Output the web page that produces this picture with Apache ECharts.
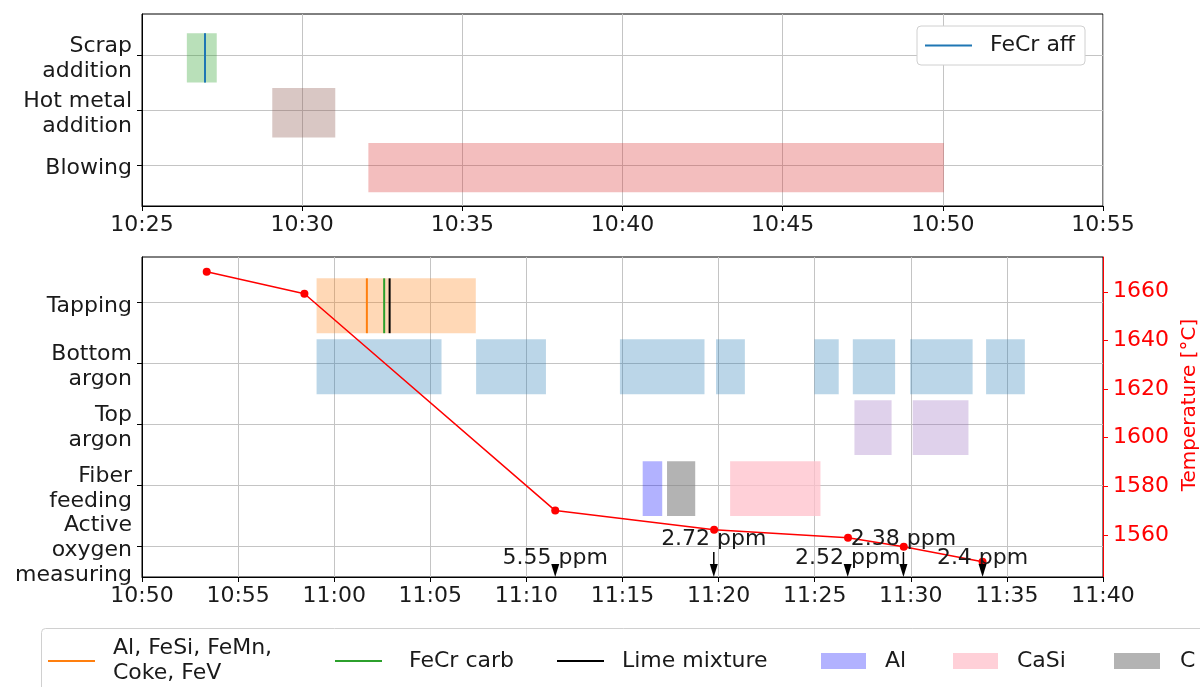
<!DOCTYPE html>
<html>
<head>
<meta charset="utf-8">
<script src="https://cdn.jsdelivr.net/npm/echarts@6/dist/echarts.min.js"></script>
<style>
  html, body { margin: 0; padding: 0; background: #fff; }
  #chart { width: 1200px; height: 687px; }
</style>
</head>
<body>
<div id="chart"></div>
<script>
// ---- Converter phase (top panel) ----
const topCategories = ['Scrap\naddition', 'Hot metal\naddition', 'Blowing'];
const scrapAddition = [['10:26:24', '10:27:20']];
const hotMetalAddition = [['10:29:04', '10:31:02']];
const blowing = [['10:32:04', '10:50:02']];
const fecrAff = ['10:26:58'];

// ---- Ladle phase (bottom panel) ----
const bottomCategories = ['Tapping', 'Bottom\nargon', 'Top\nargon', 'Fiber\nfeeding', 'Active\noxygen\nmeasuring'];
const tapping = [['10:59:05', '11:07:22']];
const alloyAdditions = ['11:01:42'];   // Al, FeSi, FeMn, Coke, FeV
const fecrCarb = ['11:02:36'];
const limeMixture = ['11:02:53'];
const bottomArgon = [
  ['10:59:05', '11:05:35'], ['11:07:23', '11:11:01'], ['11:14:52', '11:19:16'],
  ['11:19:52', '11:21:22'], ['11:24:59', '11:26:15'], ['11:26:59', '11:29:11'],
  ['11:29:58', '11:33:13'], ['11:33:55', '11:35:56']
];
const topArgon = [['11:27:04', '11:29:00'], ['11:30:06', '11:33:00']];
const fiberAl = [['11:16:03', '11:17:04']];
const fiberC = [['11:17:19', '11:18:47']];
const fiberCaSi = [['11:20:36', '11:25:18']];

// Temperature measurements
const temperatureTimes = ['10:53:22', '10:58:27', '11:11:30', '11:19:46', '11:26:44', '11:29:38', '11:33:44'];
const temperatureValues = [1668.2, 1659.2, 1570.0, 1562.1, 1558.8, 1555.1, 1549.0];
const temperatureTicks = [1560, 1580, 1600, 1620, 1640, 1660];

// Active oxygen measurements (ppm)
const oxygenTimes = ['11:11:30', '11:19:45', '11:26:43', '11:29:37', '11:33:44'];
const oxygenValues = [5.55, 2.72, 2.52, 2.38, 2.4];

// ---- helpers ----
function toMin(s) {
  const p = s.split(':').map(Number);
  return p[0] * 60 + p[1] + (p[2] || 0) / 60;
}
function fmtTime(v) {
  const h = Math.floor(v / 60), m = Math.round(v - h * 60);
  return h + ':' + String(m).padStart(2, '0');
}
const FONT = 'DejaVu Sans';
const TXT = '#1a1a1a';
const GRIDLINE = '#c4c4c4';

function intervalSeries(name, list, row, color, axis) {
  return {
    type: 'custom', name: name, xAxisIndex: axis, yAxisIndex: axis,
    data: list.map(d => [toMin(d[0]), toMin(d[1]), row]),
    encode: { x: [0, 1], y: 2 },
    itemStyle: { color: color },
    z: 2,
    renderItem: function (params, api) {
      const a = api.coord([api.value(0), api.value(2) - 0.4]);
      const b = api.coord([api.value(1), api.value(2) + 0.5]);
      return {
        type: 'rect',
        shape: { x: a[0], y: Math.min(a[1], b[1]), width: b[0] - a[0], height: Math.abs(b[1] - a[1]) },
        style: { fill: color }
      };
    }
  };
}
function eventSeries(name, list, row, color, axis) {
  return {
    type: 'custom', name: name, xAxisIndex: axis, yAxisIndex: axis,
    data: list.map(t => [toMin(t), row]),
    encode: { x: 0, y: 1 },
    itemStyle: { color: color },
    z: 3,
    renderItem: function (params, api) {
      const a = api.coord([api.value(0), api.value(1) - 0.4]);
      const b = api.coord([api.value(0), api.value(1) + 0.5]);
      return {
        type: 'line',
        shape: { x1: a[0], y1: a[1], x2: b[0], y2: b[1] },
        style: { stroke: color, lineWidth: 2 }
      };
    }
  };
}
// Row names beside the left axis of a panel, placed at each row's tick
function rowLabelSeries(cats, axis, xMin) {
  return {
    type: 'custom', name: 'rows' + axis, xAxisIndex: axis, yAxisIndex: axis,
    data: cats.map((c, i) => [xMin, i]),
    encode: { x: 0, y: 1 },
    clip: false, silent: true, z: 4,
    renderItem: function (params, api) {
      const p = api.coord([api.value(0), api.value(1)]);
      return {
        type: 'text',
        style: { text: cats[params.dataIndex], x: p[0] - 10, y: p[1] + 3.5, align: 'right',
                 verticalAlign: 'middle', font: '22px "' + FONT + '"', lineHeight: 25, fill: TXT }
      };
    }
  };
}

const oxygenSeries = {
  type: 'custom', name: 'oxygen', xAxisIndex: 1, yAxisIndex: 1,
  data: oxygenTimes.map((t, i) => [toMin(t), oxygenValues[i], i]),
  encode: { x: 0 },
  z: 6,
  renderItem: function (params, api) {
    const t = api.value(0), v = api.value(1), i = api.value(2);
    const base = api.coord([t, 4.5]);
    const ty = base[1] - (i % 2 ? 38 : 19);
    const headTop = base[1] - 13;
    const children = [{
      type: 'text',
      style: { text: v + ' ppm', x: base[0], y: ty, align: 'center', verticalAlign: 'middle',
               font: '22px "' + FONT + '"', fill: TXT }
    }];
    const tail = ty + 13;
    if (tail < headTop) {
      children.push({ type: 'line', shape: { x1: base[0], y1: tail, x2: base[0], y2: headTop },
                      style: { stroke: '#000', lineWidth: 1.5 } });
    }
    children.push({ type: 'polygon',
      shape: { points: [[base[0] - 4, headTop], [base[0] + 4, headTop], [base[0], base[1]]] },
      style: { fill: '#000' } });
    return { type: 'group', children: children };
  }
};

function timeAxis(grid, min, max) {
  return {
    type: 'value', gridIndex: grid, min: min, max: max, interval: 5,
    axisLine: { show: true, onZero: false, lineStyle: { color: '#000', width: 1 } },
    axisTick: { show: true, inside: false, length: 5, lineStyle: { color: '#000' } },
    axisLabel: { formatter: fmtTime, fontFamily: FONT, fontSize: 22, color: TXT, margin: 8, hideOverlap: false },
    splitLine: { show: true, lineStyle: { color: GRIDLINE, width: 1 } }
  };
}
function categoryAxis(grid, cats, bottomPad) {
  const vals = cats.map((c, i) => i);
  return {
    type: 'value', gridIndex: grid, inverse: true, min: -0.75, max: cats.length - 1 + bottomPad,
    axisLine: { show: true, onZero: false, lineStyle: { color: '#000', width: 1 } },
    axisTick: { show: true, inside: false, length: 5, customValues: vals, lineStyle: { color: '#000' } },
    axisLabel: { show: false },
    splitLine: { show: true, lineStyle: { color: GRIDLINE, width: 1 } }
  };
}

function legendItem(name, left, top, w, h, textPad, extra) {
  return Object.assign({
    data: [{ name: name, icon: 'rect' }],
    left: left, top: top, padding: 0, itemWidth: w, itemHeight: h, selectedMode: false,
    textStyle: { fontFamily: FONT, fontSize: 22, color: TXT, lineHeight: 25, padding: [0, 0, 0, textPad] }
  }, extra || {});
}

const ALLOY = 'Al, FeSi, FeMn,\nCoke, FeV';

const option = {
  animation: false,
  backgroundColor: '#fff',
  grid: [
    { left: 142, top: 14, width: 961, height: 192, show: true, borderColor: '#000', borderWidth: 1,
      backgroundColor: 'transparent', outerBoundsMode: 'none', containLabel: false },
    { left: 142, top: 257, width: 961, height: 320, show: true, borderColor: '#000', borderWidth: 1,
      backgroundColor: 'transparent', outerBoundsMode: 'none', containLabel: false }
  ],
  xAxis: [timeAxis(0, 625, 655), timeAxis(1, 650, 700)],
  yAxis: [
    categoryAxis(0, topCategories, 0.75),
    categoryAxis(1, bottomCategories, 0.5),
    {
      type: 'value', gridIndex: 1, position: 'right', min: 1542.7, max: 1674.3,
      axisLine: { show: true, onZero: false, lineStyle: { color: '#ff0000', width: 1 } },
      axisTick: { show: true, inside: false, length: 5, customValues: temperatureTicks, lineStyle: { color: '#ff0000' } },
      axisLabel: { customValues: temperatureTicks, formatter: v => String(v), fontFamily: FONT, fontSize: 22,
                   color: '#ff0000', margin: 10 },
      splitLine: { show: false },
      name: 'Temperature [°C]', nameLocation: 'middle', nameRotate: 90, nameGap: 69,
      nameTextStyle: { fontFamily: FONT, fontSize: 20, color: '#ff0000', padding: [0, 0, 0, 24] }
    }
  ],
  legend: [
    legendItem('FeCr aff', 917, 26, 47, 2, 13,
      { backgroundColor: '#fff', borderColor: '#d0d0d0', borderWidth: 1, borderRadius: 4, padding: [7, 10, 7, 8] }),
    legendItem(ALLOY, 48, 636, 47, 2, 13),
    legendItem('FeCr carb', 335, 648.5, 47, 2, 22),
    legendItem('Lime mixture', 557, 648.5, 47, 2, 13),
    legendItem('Al', 821, 648.5, 45, 16, 14),
    legendItem('CaSi', 953, 648.5, 45, 16, 14),
    legendItem('C', 1114, 648.5, 46, 16, 15)
  ],
  graphic: [{
    type: 'rect', left: 41, top: 628, z: -1,
    shape: { width: 1200, height: 80, r: 4 },
    style: { fill: '#fff', stroke: '#d0d0d0', lineWidth: 1 }
  }],
  series: [
    intervalSeries('Scrap addition', scrapAddition, 0, 'rgba(44,160,44,0.33)', 0),
    intervalSeries('Hot metal addition', hotMetalAddition, 1, 'rgba(140,86,75,0.33)', 0),
    intervalSeries('Blowing', blowing, 2, 'rgba(214,39,40,0.3)', 0),
    eventSeries('FeCr aff', fecrAff, 0, '#1f77b4', 0),
    rowLabelSeries(topCategories, 0, 625),

    intervalSeries('Tapping', tapping, 0, 'rgba(255,127,14,0.3)', 1),
    intervalSeries('Bottom argon', bottomArgon, 1, 'rgba(31,119,180,0.3)', 1),
    intervalSeries('Top argon', topArgon, 2, 'rgba(148,103,189,0.3)', 1),
    intervalSeries('Al', fiberAl, 3, 'rgba(0,0,255,0.3)', 1),
    intervalSeries('C', fiberC, 3, 'rgba(128,128,128,0.6)', 1),
    intervalSeries('CaSi', fiberCaSi, 3, 'rgba(255,192,203,0.75)', 1),
    eventSeries(ALLOY, alloyAdditions, 0, '#ff7f0e', 1),
    eventSeries('FeCr carb', fecrCarb, 0, '#2ca02c', 1),
    eventSeries('Lime mixture', limeMixture, 0, '#000000', 1),
    rowLabelSeries(bottomCategories, 1, 650),

    {
      type: 'line', name: 'Temperature', xAxisIndex: 1, yAxisIndex: 2, z: 5,
      data: temperatureTimes.map((t, i) => [toMin(t), temperatureValues[i]]),
      symbol: 'circle', symbolSize: 8, showSymbol: true,
      itemStyle: { color: '#ff0000' },
      lineStyle: { color: '#ff0000', width: 1.5 }
    },
    oxygenSeries
  ]
};

const chart = echarts.init(document.getElementById('chart'), null, { renderer: 'canvas' });
chart.setOption(option);
</script>
</body>
</html>
